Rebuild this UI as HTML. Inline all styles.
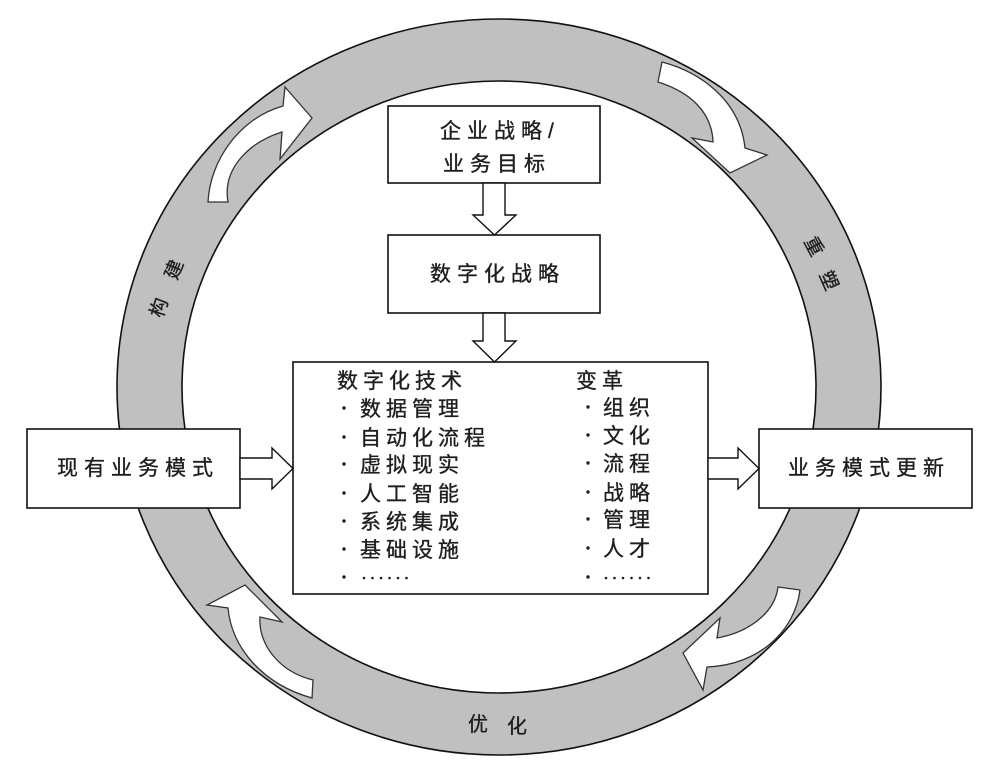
<!DOCTYPE html>
<html>
<head>
<meta charset="utf-8">
<style>
html,body{margin:0;padding:0;background:#fff;}
svg{display:block;}
text{font-family:"Liberation Sans","Noto Sans CJK SC",sans-serif;fill:#1e1e1e;stroke:#1e1e1e;stroke-width:0.35;}
</style>
</head>
<body>
<svg width="990" height="778" viewBox="0 0 990 778" xmlns="http://www.w3.org/2000/svg">
<rect width="990" height="778" fill="#fff"/>
<!-- ring -->
<path fill="#c0c0c0" stroke="#111" stroke-width="1.6" fill-rule="evenodd"
 d="M117,387 A382,368 0 1,1 881,387 A382,368 0 1,1 117,387 Z M182,387 A317,306 0 1,0 816,387 A317,306 0 1,0 182,387 Z"/>

<!-- curved arrows in ring -->
<g fill="#fff" stroke="#333" stroke-width="1.3" stroke-linejoin="miter">
<path d="M208,202 C210,160 240,118 283,106 L285,87 L312,118 L280,159 L282,132 C250,142 222,168 228,202 Z"/>
<path d="M662,62 C700,72 740,100 745,148 L767,155 L730,173 L692,138 L713,142 C712,112 690,92 658,82 Z"/>
<path d="M312,698 C265,685 232,650 228,608 L207,605 L245,585 L282,622 L260,617 C258,645 280,672 313,680 Z"/>
<path d="M800,590 C795,630 760,665 707,667 L703,690 L683,653 L720,618 L717,638 C750,632 775,612 778,587 Z"/>
</g>

<!-- ring labels -->
<g font-size="19">
<text x="175" y="270" text-anchor="middle" dominant-baseline="central" transform="rotate(-68 175 270)">建</text>
<text x="160" y="308" text-anchor="middle" dominant-baseline="central" transform="rotate(-72 160 308)">构</text>
<text x="813" y="247" text-anchor="middle" dominant-baseline="central" transform="rotate(62 813 247)">重</text>
<text x="828" y="281" text-anchor="middle" dominant-baseline="central" transform="rotate(66 828 281)">塑</text>
</g>
<g font-size="20">
<text x="478" y="725" text-anchor="middle" dominant-baseline="central">优</text>
<text x="517" y="727" text-anchor="middle" dominant-baseline="central">化</text>
</g>

<!-- boxes -->
<g fill="#fff" stroke="#111" stroke-width="1.6">
<rect x="388" y="106" width="212" height="77"/>
<rect x="388" y="235" width="212" height="78"/>
<rect x="293" y="362" width="415" height="232"/>
<rect x="27" y="429" width="213" height="79"/>
<rect x="759" y="429" width="213" height="79"/>
</g>

<!-- block arrows -->
<g fill="#fff" stroke="#111" stroke-width="1.4" stroke-linejoin="miter">
<polygon points="240,458 272,458 272,448 293,468.5 272,489 272,479 240,479"/>
<polygon points="708,458 738,458 738,448 759,468.5 738,489 738,479 708,479"/>
<polygon points="483,183 483,215 473,215 494.5,235 516,215 505,215 505,183"/>
<polygon points="483,313 483,341 473,341 494.5,362 516,341 505,341 505,313"/>
</g>

<!-- box texts -->
<g font-size="21" letter-spacing="6">
<text x="440" y="138">企业战略/</text>
<text x="443" y="171">业务目标</text>
<text x="430" y="281">数字化战略</text>
<text x="57" y="475">现有业务模式</text>
<text x="788" y="475">业务模式更新</text>
</g>

<!-- main box content -->
<g font-size="21" letter-spacing="5">
<text x="337" y="388">数字化技术</text>
<text x="360" y="416">数据管理</text>
<text x="360" y="445">自动化流程</text>
<text x="360" y="472">虚拟现实</text>
<text x="360" y="501">人工智能</text>
<text x="360" y="529">系统集成</text>
<text x="360" y="557">基础设施</text>

<text x="576" y="388">变革</text>
<text x="603" y="415">组织</text>
<text x="603" y="443">文化</text>
<text x="603" y="471">流程</text>
<text x="603" y="500">战略</text>
<text x="603" y="527">管理</text>
<text x="603" y="556">人才</text>
</g>

<!-- bullets -->
<g fill="#1e1e1e">
<circle cx="344" cy="408" r="1.7"/>
<circle cx="344" cy="437" r="1.7"/>
<circle cx="344" cy="464" r="1.7"/>
<circle cx="344" cy="493" r="1.7"/>
<circle cx="344" cy="521" r="1.7"/>
<circle cx="344" cy="549" r="1.7"/>
<circle cx="344" cy="577" r="1.7"/>

<circle cx="588" cy="407" r="1.7"/>
<circle cx="588" cy="435" r="1.7"/>
<circle cx="588" cy="463" r="1.7"/>
<circle cx="588" cy="492" r="1.7"/>
<circle cx="588" cy="519" r="1.7"/>
<circle cx="588" cy="548" r="1.7"/>
<circle cx="588" cy="577" r="1.7"/>

<!-- ellipsis dots left -->
<circle cx="364" cy="578" r="1.3"/>
<circle cx="372.5" cy="578" r="1.3"/>
<circle cx="381" cy="578" r="1.3"/>
<circle cx="389.5" cy="578" r="1.3"/>
<circle cx="398" cy="578" r="1.3"/>
<circle cx="406.5" cy="578" r="1.3"/>
<!-- ellipsis dots right -->
<circle cx="606" cy="578" r="1.3"/>
<circle cx="614.5" cy="578" r="1.3"/>
<circle cx="623" cy="578" r="1.3"/>
<circle cx="631.5" cy="578" r="1.3"/>
<circle cx="640" cy="578" r="1.3"/>
<circle cx="648.5" cy="578" r="1.3"/>
</g>
</svg>
</body>
</html>
